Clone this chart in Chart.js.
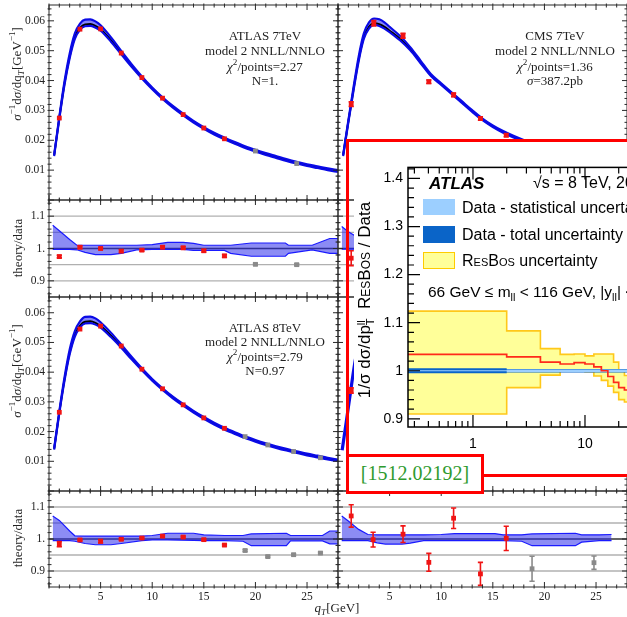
<!DOCTYPE html>
<html>
<head>
<meta charset="utf-8">
<title>qT spectra with ResBos inset</title>
<script src="https://cdn.jsdelivr.net/npm/chart.js@4.4.1/dist/chart.umd.min.js"></script>
<style>
  html, body { margin: 0; padding: 0; }
  body { position: relative; width: 627px; height: 617px; overflow: hidden; background: #fff; }
  canvas, .t, .box { position: absolute; }
  .t { white-space: nowrap; line-height: 1; }
  .serif { font-family: "Liberation Serif", "Times New Roman", serif; font-size: 13px; color: #222; }
  .sans { font-family: "Liberation Sans", Arial, Helvetica, sans-serif; font-size: 16px; color: #000; }
  .c { transform: translate(-50%, -50%); }
  .l { transform: translate(0, -50%); }
  .rot { transform: translate(-50%, -50%) rotate(-90deg); }
  sup, sub { font-size: 0.7em; line-height: 0; }
  .sc { font-variant: small-caps; }
</style>
</head>
<body>
<div id="under"></div>
<div class="box" style="left:354px;top:142px;width:280px;height:332px;background:#fff;"></div>
<div id="over"></div>

<!-- Mathematica panel texts -->
<div class="t serif c" style="left:265px;top:35px;">ATLAS 7TeV</div>
<div class="t serif c" style="left:265px;top:50px;">model 2 NNLL/NNLO</div>
<div class="t serif c" style="left:265px;top:66px;"><i>χ</i><sup>2</sup>/points=2.27</div>
<div class="t serif c" style="left:265px;top:80px;">N=1.</div>

<div class="t serif c" style="left:555px;top:35px;">CMS 7TeV</div>
<div class="t serif c" style="left:555px;top:50px;">model 2 NNLL/NNLO</div>
<div class="t serif c" style="left:555px;top:66px;"><i>χ</i><sup>2</sup>/points=1.36</div>
<div class="t serif c" style="left:555px;top:80px;"><i>σ</i>=387.2pb</div>

<div class="t serif c" style="left:265px;top:327px;">ATLAS 8TeV</div>
<div class="t serif c" style="left:265px;top:341px;">model 2 NNLL/NNLO</div>
<div class="t serif c" style="left:265px;top:356px;"><i>χ</i><sup>2</sup>/points=2.79</div>
<div class="t serif c" style="left:265px;top:370px;">N=0.97</div>

<div class="t serif rot" style="left:16px;top:74px;"><i>σ</i><sup>−1</sup>d<i>σ</i>/dq<sub><i>T</i></sub>[GeV<sup>−1</sup>]</div>
<div class="t serif rot" style="left:16px;top:371px;"><i>σ</i><sup>−1</sup>d<i>σ</i>/dq<sub><i>T</i></sub>[GeV<sup>−1</sup>]</div>
<div class="t serif rot" style="left:17px;top:248px;">theory/data</div>
<div class="t serif rot" style="left:17px;top:538px;">theory/data</div>
<div class="t serif c" style="left:337px;top:607px;"><i>q<sub>T</sub></i>[GeV]</div>

<!-- ATLAS inset texts -->
<div class="t sans l" style="left:429px;top:183px;font-weight:bold;font-style:italic;font-size:17px;">ATLAS</div>
<div class="t sans l" style="left:533px;top:183px;">√s = 8 TeV, 20.3 fb<sup>−1</sup></div>
<div class="box" style="left:423px;top:199px;width:32px;height:16px;background:#9ccfff;"></div>
<div class="box" style="left:423px;top:226px;width:32px;height:17px;background:#0a64c8;"></div>
<div class="box" style="left:423px;top:252px;width:32px;height:17px;background:#ffff99;border:1.5px solid #ffcc00;box-sizing:border-box;"></div>
<div class="t sans l" style="left:462px;top:208px;">Data - statistical uncertainty</div>
<div class="t sans l" style="left:462px;top:235px;">Data - total uncertainty</div>
<div class="t sans l" style="left:462px;top:261px;"><span class="sc">ResBos</span> uncertainty</div>
<div class="t sans l" style="left:428px;top:292px;font-size:15.5px;">66 GeV ≤ m<sub>ll</sub> &lt; 116 GeV, |y<sub>ll</sub>| &lt; 2.4</div>
<div class="t sans rot" style="left:366px;top:300px;font-size:17px;">1/σ dσ/dp<span style="display:inline-block;vertical-align:-0.4em;line-height:0.85;font-size:0.65em;"><span style="display:block;">ll</span><span style="display:block;">T</span></span>&nbsp;&nbsp;<span class="sc">ResBos</span> / Data</div>

<!-- red overlay frame and reference tag -->
<div class="box" style="left:346px;top:139px;width:320px;height:338px;border:3px solid #ff0000;box-sizing:border-box;"></div>
<div class="box" style="left:346px;top:454px;width:138px;height:40px;border:3px solid #ff0000;box-sizing:border-box;background:#fff;
  font-family:'Liberation Serif','Times New Roman',serif;font-size:20px;color:#2e9a2e;text-align:center;line-height:33px;">[1512.02192]</div>

<script>
// ---------- data ----------
// sample points of the theory curves (q_T in GeV)
var qt = [0.5, 1, 1.5, 2, 2.5, 3, 3.5, 4, 4.5, 5, 6, 7, 8, 9, 10, 11, 12, 13, 14, 15, 16, 17, 18, 19, 20, 21, 22, 23, 24, 25, 26, 27, 28];
var mainBandUp = [0.0003, 0.0005, 0.0008, 0.0011, 0.0013, 0.0015, 0.0016, 0.0016, 0.0015, 0.0013, 0.0010, 0.0007, 0.0005, 0.0004, 0.0003, 0.0003, 0.0003, 0.0003, 0.0003, 0.0003, 0.0003, 0.0003, 0.0003, 0.0003, 0.0003, 0.0003, 0.0003, 0.0003, 0.0003, 0.0003, 0.0003, 0.0003, 0.0003];
var mainBandDn = [0.0003, 0.0004, 0.0005, 0.0006, 0.0006, 0.0006, 0.0006, 0.0006, 0.0006, 0.0005, 0.0005, 0.0004, 0.0004, 0.0003, 0.0003, 0.0003, 0.0003, 0.0003, 0.0003, 0.0003, 0.0003, 0.0003, 0.0003, 0.0003, 0.0003, 0.0003, 0.0003, 0.0003, 0.0003, 0.0003, 0.0003, 0.0003, 0.0003];

var atlas7Theory = [0.0150, 0.0275, 0.0390, 0.0480, 0.0545, 0.0576, 0.0588, 0.0589, 0.0583, 0.0572, 0.0535, 0.0492, 0.0450, 0.0410, 0.0374, 0.0341, 0.0312, 0.0286, 0.0262, 0.0241, 0.0222, 0.0206, 0.0191, 0.0177, 0.0165, 0.0154, 0.0144, 0.0134, 0.0125, 0.0117, 0.0110, 0.0103, 0.0097];
var atlas8Theory = [0.0142, 0.0265, 0.0375, 0.0465, 0.0525, 0.0556, 0.0570, 0.0571, 0.0566, 0.0555, 0.0523, 0.0486, 0.0447, 0.0409, 0.0374, 0.0343, 0.0315, 0.0290, 0.0267, 0.0246, 0.0227, 0.0210, 0.0195, 0.0181, 0.0169, 0.0158, 0.0148, 0.0139, 0.0131, 0.0123, 0.0116, 0.0109, 0.0103];
var cms7Theory = [0.0150, 0.0262, 0.0370, 0.0470, 0.0545, 0.0580, 0.0592, 0.0589, 0.0580, 0.0567, 0.0540, 0.0505, 0.0462, 0.0418, 0.0388, 0.0358, 0.0328, 0.0298, 0.0270, 0.0247, 0.0228, 0.0212, 0.0198, 0.0187, 0.0178, 0.0170];
var cms8CurveX = [0.4, 0.8, 1.2, 1.6, 2.0];
var cms8Theory = [0.0137, 0.0232, 0.0330, 0.0425, 0.0500];

// ATLAS 7 TeV
var atlas7X = [1, 3, 5, 7, 9, 11, 13, 15, 17];
var atlas7Y = [0.02745, 0.0572, 0.0573, 0.0492, 0.0410, 0.0341, 0.0286, 0.0241, 0.0205];
var atlas7GrayX = [20, 24];
var atlas7GrayY = [0.0164, 0.0122];
var atlas7Ratio = [0.975, 1.004, 1.000, 0.992, 0.995, 1.004, 1.002, 0.993, 0.977];
var atlas7RatioErr = [0.004, 0.004, 0.003, 0.004, 0.003, 0.004, 0.004, 0.004, 0.004];
var atlas7RatioGray = [0.951, 0.950];
var atlas7BandX = [0.36, 1, 2, 2.7, 3.5, 4.5, 6, 7, 8.5, 10, 11.5, 13, 14, 15, 17, 17.6, 19.6, 22.9, 23.2, 25.5, 27.2, 28];
var atlas7BandUp = [1.072, 1.055, 1.028, 1.010, 1.010, 1.010, 1.010, 1.010, 1.010, 1.012, 1.019, 1.019, 1.016, 1.010, 1.010, 1.010, 1.017, 1.017, 1.010, 1.010, 1.031, 1.031];
var atlas7BandDn = [0.997, 0.997, 0.997, 0.996, 0.988, 0.981, 0.981, 0.985, 0.996, 0.997, 0.997, 0.997, 0.994, 0.994, 0.994, 0.985, 0.976, 0.976, 0.985, 0.996, 0.985, 0.985];

// ATLAS 8 TeV
var atlas8X = [1, 3, 5, 7, 9, 11, 13, 15, 17];
var atlas8Y = [0.0265, 0.0545, 0.0555, 0.0488, 0.0410, 0.0344, 0.0290, 0.0246, 0.0211];
var atlas8GrayX = [19, 21.2, 23.7, 26.3];
var atlas8GrayY = [0.0183, 0.0155, 0.0133, 0.0112];
var atlas8Ratio = [0.984, 0.997, 0.993, 0.999, 1.003, 1.009, 1.006, 0.998, 0.981];
var atlas8RatioErr = [0.008, 0.003, 0.005, 0.003, 0.003, 0.003, 0.003, 0.003, 0.003];
var atlas8RatioGray = [0.964, 0.945, 0.951, 0.956];
var atlas8BandX = [0.36, 1, 2, 2.5, 3.5, 4.5, 6, 7, 9, 10, 11.5, 14, 15, 17, 18.8, 19.6, 23, 23.4, 26.5, 27.2, 28];
var atlas8BandUp = [1.072, 1.058, 1.025, 1.010, 1.009, 1.009, 1.009, 1.009, 1.009, 1.011, 1.018, 1.018, 1.013, 1.011, 1.011, 1.016, 1.018, 1.011, 1.011, 1.025, 1.025];
var atlas8BandDn = [0.995, 0.995, 0.995, 0.993, 0.986, 0.982, 0.982, 0.986, 0.995, 0.997, 0.997, 0.996, 0.995, 0.995, 0.993, 0.979, 0.979, 0.994, 0.994, 0.985, 0.985];

// CMS 7 TeV (upper right)
var cms7X = [1.28, 3.47, 6.3, 8.8, 11.2, 13.8, 16.3];
var cms7Y = [0.0321, 0.0592, 0.0550, 0.0396, 0.0352, 0.0273, 0.0217];
var cms7Err = [0.0008, 0.0009, 0.0008, 0.0006, 0.0006, 0.0006, 0.0005];
var cms7RatioX = [1.28];
var cms7Ratio = [0.970];
var cms7RatioErr = [0.023];
var cms7BandX = [0.36, 1, 1.6, 2];
var cms7BandUp = [1.068, 1.052, 1.040, 1.030];
var cms7BandDn = [0.998, 0.998, 0.998, 0.998];

// lower right panel
var cms8X = [1.28];
var cms8Y = [0.0338];
var cms8Err = [0.0009];
var cms8RatioX = [1.28, 3.4, 6.3, 8.8, 11.2, 13.8, 16.3];
var cms8Ratio = [1.072, 0.998, 1.015, 0.927, 1.065, 0.891, 1.002];
var cms8RatioErr = [0.035, 0.023, 0.026, 0.028, 0.032, 0.036, 0.038];
var cms8GrayX = [18.8, 24.8];
var cms8RatioGray = [0.907, 0.926];
var cms8GrayErr = [0.039, 0.021];
var cms8BandX = [0.36, 1, 2, 2.9, 3.8, 4.6, 6.2, 7, 8.3, 10, 11.3, 15.2, 16, 17.8, 18.8, 23, 23.6, 25.3, 26.5];
var cms8BandUp = [1.072, 1.056, 1.030, 1.014, 1.013, 1.013, 1.013, 1.013, 1.013, 1.014, 1.017, 1.017, 1.013, 1.013, 1.016, 1.018, 1.013, 1.013, 1.014];
var cms8BandDn = [0.995, 0.995, 0.995, 0.995, 0.988, 0.984, 0.984, 0.987, 0.995, 0.995, 0.995, 0.995, 0.995, 0.993, 0.979, 0.979, 0.990, 0.995, 0.995];

// ATLAS 8 TeV ResBos / Data inset (bins in GeV)
var resEdges = [0.1, 2, 4, 6, 8, 10, 12, 14, 16, 18, 20, 22.5, 25];
var resCentral = [1.034, 1.029, 1.018, 1.014, 1.017, 1.014, 1.008, 1.000, 0.988, 0.976, 0.965, 0.960];
var resUpper = [1.124, 1.083, 1.046, 1.034, 1.035, 1.031, 1.035, 1.035, 1.035, 1.018, 1.000, 0.990];
var resLower = [0.910, 0.965, 0.991, 0.999, 1.000, 0.998, 0.989, 0.980, 0.968, 0.955, 0.940, 0.935];
var dataTotErr = [0.005, 0.0035, 0.0035, 0.0035, 0.0035, 0.0035, 0.0035, 0.0035, 0.0035, 0.0035, 0.0035, 0.0035];
var dataStatErr = [0.0012, 0.0027, 0.0027, 0.0027, 0.0027, 0.0027, 0.0027, 0.0027, 0.0027, 0.0027, 0.0027, 0.0027];

// ---------- helpers ----------
var SERIF = '"Liberation Serif", "Times New Roman", serif';
var SANS = '"Liberation Sans", Arial, Helvetica, sans-serif';
var RED = '#f01414';
var GRAY = '#8a8a8a';

function pts(xs, ys) {
  return xs.map(function (x, i) { return {x: x, y: ys[i]}; });
}
function shift(ys, d, sign) {
  return ys.map(function (y, i) { return y + sign * d[i]; });
}
function steps(edges, vals) {
  var out = [];
  for (var i = 0; i < vals.length; i++) {
    out.push({x: edges[i], y: vals[i]}, {x: edges[i + 1], y: vals[i]});
  }
  return out;
}

function markers(data, color, err) {
  return {data: data, showLine: false, pointStyle: 'rect', pointRadius: 3.4,
    backgroundColor: color, borderColor: color, borderWidth: 0, err: err};
}
function line(data, color, width, smooth) {
  return {data: data, showLine: true, pointRadius: 0, borderColor: color, borderWidth: width,
    cubicInterpolationMode: smooth ? 'monotone' : 'default', tension: 0, fill: false};
}
function fillPair(up, dn, color, smooth) {
  var a = line(up, 'rgba(0,0,0,0)', 0, smooth);
  a.fill = '+1';
  a.backgroundColor = color;
  var b = line(dn, 'rgba(0,0,0,0)', 0, smooth);
  return [a, b];
}

function tickList(from, to, step, every, big, small) {
  var out = [], n = Math.round((to - from) / step);
  for (var i = 0; i <= n; i++) out.push([from + i * step, i % every === 0 ? big : small]);
  return out;
}

function framePlugin(f) {
  return {
    id: 'frame',
    beforeDatasetsDraw: function (chart) {
      var ctx = chart.ctx, a = chart.chartArea, y = chart.scales.y;
      (f.hlines || []).forEach(function (h) {
        var py = y.getPixelForValue(h[0]);
        ctx.save();
        ctx.strokeStyle = h[1];
        ctx.lineWidth = h[2];
        ctx.beginPath();
        ctx.moveTo(a.left, py);
        ctx.lineTo(a.right, py);
        ctx.stroke();
        ctx.restore();
      });
    },
    afterDatasetsDraw: function (chart) {
      var ctx = chart.ctx, x = chart.scales.x, y = chart.scales.y;
      chart.data.datasets.forEach(function (ds) {
        if (!ds.err) return;
        ctx.save();
        ctx.strokeStyle = ds.backgroundColor;
        ctx.lineWidth = 1.6;
        ctx.beginPath();
        ds.data.forEach(function (p, i) {
          var px = x.getPixelForValue(p.x);
          var y1 = y.getPixelForValue(p.y - ds.err[i]);
          var y2 = y.getPixelForValue(p.y + ds.err[i]);
          ctx.moveTo(px, y1); ctx.lineTo(px, y2);
          ctx.moveTo(px - 2.6, y1); ctx.lineTo(px + 2.6, y1);
          ctx.moveTo(px - 2.6, y2); ctx.lineTo(px + 2.6, y2);
        });
        ctx.stroke();
        ctx.restore();
      });
    },
    afterDraw: function (chart) {
      var ctx = chart.ctx, a = chart.chartArea, x = chart.scales.x, y = chart.scales.y;
      ctx.save();
      ctx.strokeStyle = f.color;
      ctx.lineWidth = f.width;
      ctx.strokeRect(a.left, a.top, a.right - a.left, a.bottom - a.top);
      ctx.lineWidth = f.tickWidth;
      ctx.beginPath();
      f.xt.forEach(function (t) {
        var px = x.getPixelForValue(t[0]);
        if (px < a.left - 0.5 || px > a.right + 0.5) return;
        ctx.moveTo(px, a.bottom + f.out); ctx.lineTo(px, a.bottom - t[1]);
        ctx.moveTo(px, a.top - f.out); ctx.lineTo(px, a.top + t[1]);
      });
      f.yt.forEach(function (t) {
        var py = y.getPixelForValue(t[0]);
        if (py < a.top - 0.5 || py > a.bottom + 0.5) return;
        ctx.moveTo(a.left - f.out, py); ctx.lineTo(a.left + t[1], py);
        ctx.moveTo(a.right + f.out, py); ctx.lineTo(a.right - t[1], py);
      });
      ctx.stroke();
      ctx.restore();
    }
  };
}

function addCanvas(holder, left, top, w, h) {
  var c = document.createElement('canvas');
  c.width = w;
  c.height = h;
  c.style.left = left + 'px';
  c.style.top = top + 'px';
  c.style.width = w + 'px';
  c.style.height = h + 'px';
  document.getElementById(holder).appendChild(c);
  return c;
}

var fmtX = function (v) { return String(v); };

function axis(type, min, max, labels, isX, size, font, fmt, pad) {
  var f = fmt || fmtX;
  return {
    type: type, min: min, max: max, display: !!labels,
    grid: {display: false, drawTicks: false},
    border: {display: false},
    afterBuildTicks: function (s) {
      if (labels) s.ticks = labels.map(function (v) { return {value: v}; });
    },
    afterFit: function (s) {
      if (!labels) return;
      if (isX) s.height = size; else s.width = size;
    },
    ticks: {
      autoSkip: false, maxRotation: 0, minRotation: 0, padding: pad,
      color: font.color, font: {family: font.family, size: font.size},
      callback: function (v) { return f(v); }
    }
  };
}

var mFont = {family: SERIF, size: 11.5, color: '#222'};
var fmtMain = function (v) { return v.toFixed(2); };
var fmtRatio = function (v) { return Math.abs(v - 1) < 1e-9 ? '1.' : v.toFixed(1); };

var xTicksM = tickList(0, 28, 1, 5, 5, 2.5);
var mainFrame = {color: '#2a2a2a', width: 1, tickWidth: 1, out: 1.5, xt: xTicksM, yt: tickList(0, 0.064, 0.002, 5, 5, 2.5)};
var ratioFrame = {color: '#2a2a2a', width: 1, tickWidth: 1, out: 1.5, xt: xTicksM, yt: tickList(0.8, 1.2, 0.02, 5, 5, 2.5),
  hlines: [[0.9, '#b0b0b0', 1.4], [0.95, '#b0b0b0', 1.4], [1.05, '#b0b0b0', 1.4], [1.1, '#b0b0b0', 1.4], [1.0, '#333', 1.3]]};

function panel(p) {
  var L = p.yLabels ? 49 : 14, R = 14, T = 14, B = p.xLabels ? 30 : 14;
  var w = p.x1 - p.x0 + L + R, h = p.y1 - p.y0 + T + B;
  var c = addCanvas('under', p.x0 - L, p.y0 - T, w, h);
  return new Chart(c, {
    type: 'scatter',
    data: {datasets: p.datasets},
    options: {
      responsive: false, animation: false, events: [],
      layout: {padding: {left: p.yLabels ? 0 : L, right: R, top: T, bottom: p.xLabels ? 0 : B}},
      plugins: {legend: {display: false}, tooltip: {enabled: false}},
      scales: {
        x: axis('linear', 0, 28, p.xLabels, true, B, mFont, fmtX, 3),
        y: axis('linear', p.yMin, p.yMax, p.yLabels, false, L, mFont, p.yFmt, 4)
      }
    },
    plugins: [framePlugin(p.frame)]
  });
}

function mainSets(curveX, theory, redX, redY, redErr, grayX, grayY) {
  var up = shift(theory, mainBandUp, 1), dn = shift(theory, mainBandDn, -1);
  var sets = [markers(pts(redX, redY), RED, redErr)];
  if (grayX) sets.push(markers(pts(grayX, grayY), GRAY));
  sets.push(line(pts(curveX, up), '#0a0ae6', 2.1, true));
  sets.push(line(pts(curveX, dn), '#0a0ae6', 2.1, true));
  sets.push(line(pts(curveX, theory), '#000', 2, true));
  return sets.concat(fillPair(pts(curveX, up), pts(curveX, dn), 'rgba(50,50,245,0.6)', true));
}

function ratioSets(redX, redY, redErr, grayX, grayY, grayErr, bx, bu, bd) {
  var sets = [markers(pts(redX, redY), RED, redErr)];
  if (grayX) sets.push(markers(pts(grayX, grayY), GRAY, grayErr));
  sets.push(line(pts(bx, bu), '#1a1aff', 1.2, false));
  sets.push(line(pts(bx, bd), '#1a1aff', 1.2, false));
  return sets.concat(fillPair(pts(bx, bu), pts(bx, bd), 'rgba(45,45,235,0.55)', false));
}

var mainY = [0.01, 0.02, 0.03, 0.04, 0.05, 0.06];
var ratioY = [0.9, 1.0, 1.1];
var xLab = [5, 10, 15, 20, 25];

// left column
panel({x0: 49, x1: 338, y0: 5, y1: 200, yMin: 0, yMax: 0.0653, yLabels: mainY, yFmt: fmtMain, frame: mainFrame,
  datasets: mainSets(qt, atlas7Theory, atlas7X, atlas7Y, null, atlas7GrayX, atlas7GrayY)});
panel({x0: 49, x1: 338, y0: 200, y1: 297, yMin: 0.85, yMax: 1.15, yLabels: ratioY, yFmt: fmtRatio, frame: ratioFrame,
  datasets: ratioSets(atlas7X, atlas7Ratio, atlas7RatioErr, atlas7GrayX, atlas7RatioGray, [0.003, 0.003], atlas7BandX, atlas7BandUp, atlas7BandDn)});
panel({x0: 49, x1: 338, y0: 297, y1: 491, yMin: 0, yMax: 0.0653, yLabels: mainY, yFmt: fmtMain, frame: mainFrame,
  datasets: mainSets(qt, atlas8Theory, atlas8X, atlas8Y, null, atlas8GrayX, atlas8GrayY)});
panel({x0: 49, x1: 338, y0: 491, y1: 587, yMin: 0.85, yMax: 1.15, yLabels: ratioY, yFmt: fmtRatio, xLabels: xLab, frame: ratioFrame,
  datasets: ratioSets(atlas8X, atlas8Ratio, atlas8RatioErr, atlas8GrayX, atlas8RatioGray, [0.003, 0.003, 0.003, 0.003], atlas8BandX, atlas8BandUp, atlas8BandDn)});

// right column
panel({x0: 338, x1: 627, y0: 5, y1: 200, yMin: 0, yMax: 0.0653, frame: mainFrame,
  datasets: mainSets(qt.slice(0, cms7Theory.length), cms7Theory, cms7X, cms7Y, cms7Err)});
panel({x0: 338, x1: 627, y0: 200, y1: 297, yMin: 0.85, yMax: 1.15, frame: ratioFrame,
  datasets: ratioSets(cms7RatioX, cms7Ratio, cms7RatioErr, null, null, null, cms7BandX, cms7BandUp, cms7BandDn)});
panel({x0: 338, x1: 627, y0: 297, y1: 491, yMin: 0, yMax: 0.0653, frame: mainFrame,
  datasets: [markers(pts(cms8X, cms8Y), RED, cms8Err), line(pts(cms8CurveX, cms8Theory), '#0a0ae6', 3.2, true)]});
panel({x0: 338, x1: 627, y0: 491, y1: 587, yMin: 0.85, yMax: 1.15, xLabels: xLab, frame: ratioFrame,
  datasets: ratioSets(cms8RatioX, cms8Ratio, cms8RatioErr, cms8GrayX, cms8RatioGray, cms8GrayErr, cms8BandX, cms8BandUp, cms8BandDn)});

// ---------- ATLAS inset ----------
(function () {
  var x0 = 408, x1 = 697, y0 = 164, y1 = 427, L = 50, R = 10, T = 10, B = 30;
  var c = addCanvas('over', x0 - L, y0 - T, x1 - x0 + L + R, y1 - y0 + T + B);
  var ones = resCentral.map(function () { return 1; });
  var logTicks = [];
  [0.1, 1, 10].forEach(function (d) {
    for (var k = 1; k <= 9; k++) logTicks.push([k * d, k === 1 ? 12 : 6]);
  });
  logTicks.push([100, 12]);
  var sFont = {family: SANS, size: 14, color: '#000'};
  var sets = [
    line(steps(resEdges, resCentral), '#ff2a1a', 1.7, false)
  ].concat(
    fillPair(steps(resEdges, shift(ones, dataStatErr, 1)), steps(resEdges, shift(ones, dataStatErr, -1)), '#9ccfff', false),
    fillPair(steps(resEdges, shift(ones, dataTotErr, 1)), steps(resEdges, shift(ones, dataTotErr, -1)), '#0a64c8', false),
    [line(steps(resEdges, resUpper), '#ffc81a', 1.6, false), line(steps(resEdges, resLower), '#ffc81a', 1.6, false)],
    fillPair(steps(resEdges, resUpper), steps(resEdges, resLower), '#ffff99', false)
  );
  new Chart(c, {
    type: 'scatter',
    data: {datasets: sets},
    options: {
      responsive: false, animation: false, events: [],
      layout: {padding: {left: 0, right: R, top: T, bottom: 0}},
      plugins: {legend: {display: false}, tooltip: {enabled: false}},
      scales: {
        x: axis('logarithmic', 0.263, 100, [1, 10], true, B, sFont, fmtX, 9),
        y: axis('linear', 0.883, 1.423, [0.9, 1.0, 1.1, 1.2, 1.3, 1.4], false, L, sFont,
          function (v) { return Math.abs(v - 1) < 1e-9 ? '1' : v.toFixed(1); }, 5)
      }
    },
    plugins: [framePlugin({color: '#000', width: 1.5, tickWidth: 1.2, out: 0, xt: logTicks, yt: tickList(0.8, 1.5, 0.02, 5, 12, 6)})]
  });
})();
</script>
</body>
</html>
